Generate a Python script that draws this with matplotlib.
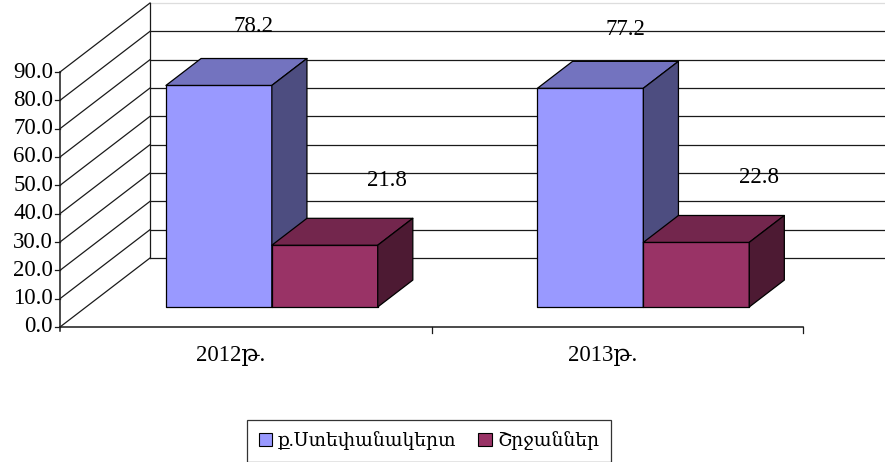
import matplotlib.pyplot as plt
from matplotlib.patches import Polygon, Patch

# data
years = ['2012թ.', '2013թ.']
series_names = ['ք.Ստեփանակերտ', 'Շրջաններ']
city = [78.2, 77.2]
regions = [21.8, 22.8]
yticks = [0, 10, 20, 30, 40, 50, 60, 70, 80, 90]

front_cols = ['#9999FF', '#993366']
top_cols = ['#7373BF', '#73264D']
side_cols = ['#4D4D80', '#4D1A33']

fonts = ['Liberation Serif', 'DejaVu Serif']
plt.rcParams['font.family'] = fonts

# pixel scale of the fake 3d view
PX_X = 371.5          # pixels per category
PX_Y = 255 / 90.0     # pixels per value unit
DX = 90 / PX_X        # full depth shift in x (category units)
DY = 69 / PX_Y        # full depth shift in y (value units)


def p(x, v, d):
    return (x + DX * d, v + DY * d)


fig = plt.figure(figsize=(8.85, 4.62), dpi=100)
ax = fig.add_axes([0, 0, 1, 1])
ax.set_xlim(-245.75 / PX_X, (885 - 245.75) / PX_X)
ax.set_ylim(-135 / PX_Y, 327 / PX_Y)
ax.axis('off')

x0, x1 = -0.5, 1.5
lc = '#1a1a1a'

# back wall + left wall grid
for v in yticks:
    col = '#dddddd' if v == yticks[-1] else lc
    a, b = p(x0, v, 1), p(x1, v, 1)
    ax.plot([a[0], b[0]], [a[1], b[1]], color=col, lw=0.9, zorder=1)
    c = p(x0, v, 0)
    ax.plot([c[0], a[0]], [c[1], a[1]], color=lc, lw=0.9, zorder=1)
    # y ticks
    ax.plot([x0 - 5 / PX_X, x0], [v, v], color=lc, lw=0.9, zorder=1)
    ax.text(x0 - 7 / PX_X, v, '%.1f' % v, ha='right', va='center', fontsize=16.5)

a, b = p(x0, 0, 1), p(x0, yticks[-1], 1)
ax.plot([a[0], b[0]], [a[1], b[1]], color=lc, lw=0.9, zorder=1)
# front axes
ax.plot([x0, x0], [-1.5, yticks[-1]], color=lc, lw=1.1, zorder=1)
ax.plot([x0, x1], [0, 0], color=lc, lw=1.1, zorder=1)
for xb in [0.5, 1.5]:
    ax.plot([xb, xb], [0, -2], color=lc, lw=0.9, zorder=1)

for i, yr in enumerate(years):
    ax.text(i - 0.04, -10, yr, ha='center', va='center', fontsize=16.5)

# bars
bw = 0.285
d0, d1 = 0.29, 0.68
offsets = [(17, 45), (45, 51)]
z = 2
for i in range(len(years)):
    for k, vals in enumerate([city, regions]):
        v = vals[i]
        xl = i - bw if k == 0 else i
        xr = xl + bw
        front = [p(xl, 0, d0), p(xr, 0, d0), p(xr, v, d0), p(xl, v, d0)]
        top = [p(xl, v, d0), p(xr, v, d0), p(xr, v, d1), p(xl, v, d1)]
        side = [p(xr, 0, d0), p(xr, 0, d1), p(xr, v, d1), p(xr, v, d0)]
        for pts, fc in [(front, front_cols[k]), (top, top_cols[k]), (side, side_cols[k])]:
            ax.add_patch(Polygon(pts, closed=True, facecolor=fc, edgecolor='black',
                                 lw=0.9, joinstyle='round', zorder=z))
        z += 1
        cx, cy = p(xl + bw / 2, v, (d0 + d1) / 2)
        ax.annotate('%.1f' % v, (cx, cy), xytext=offsets[k], textcoords='offset pixels',
                    ha='center', va='center', fontsize=16.5, zorder=20)

handles = [Patch(facecolor=front_cols[k], edgecolor='black', lw=0.8) for k in range(2)]
leg = fig.legend(handles, series_names, loc='center', bbox_to_anchor=(429 / 885, 1 - 441 / 462),
                 ncol=2, fontsize=13.5, frameon=True, fancybox=False, handlelength=0.7,
                 handleheight=0.7, handletextpad=0.3, columnspacing=1.2, borderpad=0.6)
leg.get_frame().set_edgecolor('black')
leg.get_frame().set_linewidth(0.9)

fig.savefig('out.png', dpi=100)
